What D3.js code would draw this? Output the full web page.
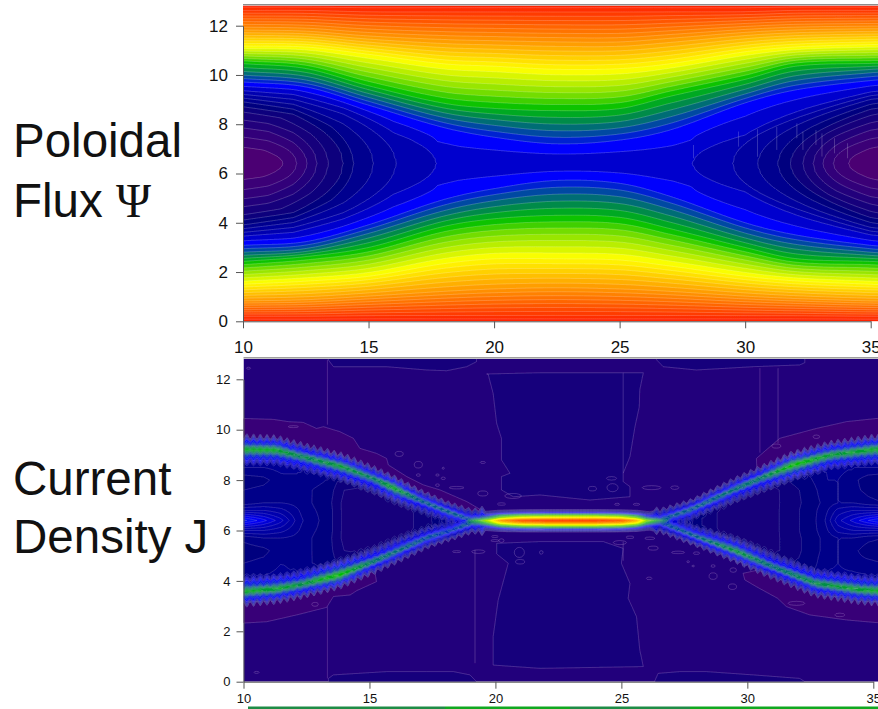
<!DOCTYPE html>
<html><head><meta charset="utf-8">
<script src="https://d3js.org/d3.v7.min.js"></script>
<style>html,body{margin:0;padding:0;background:#fff;overflow:hidden}svg{display:block}text{font-family:"Liberation Sans",Arial,sans-serif;fill:#111}</style>
</head><body><svg id="c" width="878" height="709"></svg>
<script>
// ---------- shared data ----------
const xTicks=[10,15,20,25,30,35];
const yTicks=[0,2,4,6,8,10,12];
const paletteV=[0,.05,.1,.13,.2,.24,.32,.40,.47,.58,.75,.96,1];
const paletteC=["#4b0073","#30007a","#12007c","#00007f","#0000b8","#0000ff","#006a78","#00c000","#80e000","#ffff00","#ff9a00","#ff3000","#ff2000"];
const xDomainEnd=36;
const midY=6.41, topY=12.85;

// ---------- Poloidal flux: isolines ----------
const psiInnerLevels=[.02,.04,.06,.08,.10,.12,.14,.16,.18,.20];
// [x, half height] knots of each closed isoline, left island
const psiInnerLeft=[
 [[10,.66],[10.8,.55],[11.3,.33],[11.6,0]],
 [[10,1.07],[11,.92],[11.8,.55],[12.15,0]],
 [[10,1.44],[11,1.3],[12,.85],[12.55,0]],
 [[10,1.76],[11,1.62],[12,1.25],[12.95,0]],
 [[10,2.09],[11.5,1.85],[12.7,1.2],[13.4,0]],
 [[10,2.3],[12,2.0],[13.2,1.3],[14,0]],
 [[10,2.5],[12,2.2],[13.5,1.5],[14.4,0]],
 [[10,2.65],[12,2.4],[14,1.6],[15.2,0]],
 [[10,2.8],[12,2.6],[14,2.0],[16.1,0]],
 [[10,2.95],[12,2.8],[14,2.25],[16,1.25],[17.7,0]]];
// same, right island
const psiInnerRight=[
 [[34.1,0],[34.5,.4],[35,.62],[36,.8]],
 [[33.5,0],[34,.6],[35,1.0],[36,1.15]],
 [[33.1,0],[33.8,.85],[35,1.35],[36,1.5]],
 [[32.7,0],[33.6,1.1],[35,1.65],[36,1.85]],
 [[32.3,0],[33.3,1.25],[35,1.95],[36,2.15]],
 [[31.8,0],[33,1.35],[35,2.2],[36,2.35]],
 [[31.3,0],[32.6,1.45],[35,2.4],[36,2.55]],
 [[30.5,0],[32.5,1.75],[35,2.6],[36,2.7]],
 [[29.5,0],[32.5,2.0],[35,2.75],[36,2.85]],
 [[27.9,0],[30,1.15],[32.5,2.25],[35,2.9],[36,3.0]]];
const psiMidX=[10,11.6,12.15,12.55,12.95,13.4,14,14.4,15.2,16.1,17.7,18.6,27.1,27.9,29.5,30.5,31.3,31.8,32.3,32.7,33.1,33.5,34.1,35.3,36];
const psiMidV=[0,.02,.04,.06,.08,.10,.12,.14,.16,.18,.20,.205,.205,.20,.18,.16,.14,.12,.10,.08,.06,.04,.02,0,0];
const psiColX=[10,12.5,15,18,20,22.5,25,27,30,32,35,36];
const psiOuterLevels=[.24,.32,.40,.58,.75,.96];
const psiUpper=[
 [9.65,9.45,8.7,7.77,7.36,7.08,7.24,7.64,8.78,9.3,9.7,9.75],
 [10.05,9.85,9.15,8.35,8.05,7.84,7.95,8.4,9.3,9.85,10.15,10.2],
 [10.5,10.3,9.6,8.9,8.7,8.62,8.7,9.2,9.87,10.4,10.5,10.5],
 [11.14,11.1,10.8,10.4,10.3,10.17,10.2,10.4,10.9,11.1,11.2,11.2],
 [11.8,11.75,11.55,11.4,11.35,11.3,11.3,11.45,11.7,11.8,11.85,11.85],
 [12.65,12.65,12.6,12.6,12.6,12.6,12.6,12.6,12.6,12.65,12.65,12.65]];
const psiLower=[
 [3.15,3.3,4.0,5.05,5.5,5.85,5.73,5.2,4.1,3.6,3.15,3.1],
 [2.75,2.9,3.5,4.4,4.8,5.05,4.95,4.45,3.5,3.05,2.75,2.7],
 [2.4,2.6,2.95,3.8,4.1,4.23,4.15,3.7,2.95,2.5,2.4,2.35],
 [1.54,1.67,1.87,2.4,2.6,2.6,2.55,2.3,1.87,1.68,1.54,1.5],
 [.85,.9,1.05,1.25,1.35,1.4,1.35,1.25,1.05,.95,.85,.85],
 [.18,.18,.2,.2,.2,.2,.2,.2,.2,.2,.18,.18]];
// thin straight isolines on the right island [x, y from, y to]
const psiSeams=[[27.94,7.16,6.62],[29.74,7.7,7.09],[30.49,7.8,6.68],[31.26,7.9,6.96],[32.06,8.04,7.43],[32.3,7.7,6.96],[32.82,7.77,7.16],[33.06,7.63,6.69],[33.56,7.43,6.82],[34.08,7.23,6.62]];

// ---------- Current density: ridges ----------
const upLX=[10,11.3,12.24,13.95,15.15,15.95,17,18.06,19,19.5];
const upLY=[9.22,9.2,8.96,8.53,8.07,7.7,7.21,6.77,6.44,6.38];
const upLP=[.39,.39,.36,.38,.35,.4,.33,.33,.31,.38];
const loLX=[10,11.3,12.24,13.8,15.15,16.2,17.27,18.3,19,19.5];
const loLY=[3.57,3.67,3.84,4.23,4.76,5.22,5.7,6.02,6.3,6.38];
const loLP=[.39,.39,.37,.42,.35,.34,.32,.3,.33,.38];
const upRX=[26.2,26.5,27.7,29.4,30.5,31.8,33.3,35,36];
const upRY=[6.38,6.42,6.81,7.6,8.07,8.6,9,9.22,9.25];
const upRP=[.38,.31,.33,.34,.35,.42,.38,.39,.39];
const loRX=[26.2,26.5,28,29.6,31,32.7,34.5,35.2,36];
const loRY=[6.38,6.35,5.75,5.16,4.56,3.9,3.64,3.6,3.58];
const loRP=[.38,.31,.33,.38,.34,.37,.39,.39,.39];
const widthX=[10,12,14,16,18,19.5,26.3,28,30,32,34,36];
const widthW=[.5,.48,.46,.42,.36,.4,.4,.36,.42,.46,.48,.5];
const ridgeProfileD=[0,.15,.35,.7,.95,1.15,1.25];
const ridgeProfileF=[1,.92,.72,.6,.35,.1,0];
const sheetX=[18.9,19.4,19.8,20.2,21,22,24,25,25.6,26,26.4,26.8];
const sheetP=[.34,.47,.6,.8,.95,1,1,.93,.76,.52,.42,.34];
const sheetY=6.38, sheetW=.42;
const sheetProfileD=[0,.1,.3,.57,.76,1.05,1.2];
const sheetProfileF=[1,.88,.62,.42,.24,.1,0];
// values between the two ridges
const lensX=[10,10.8,11.5,12.2,12.7,13.3,14,16.3,17.2,18,19,27,28,29,31,32.6,33.1,33.6,34.2,34.8,35.4,36];
const lensY=[3.6,4.2,4.7,5.2,5.7,6.0,6.4,6.8,7.1,7.6,8,8.5,9.2];
const lensV=[
 [.16,.16,.16,.16,.15,.14,.13,.115,.125,.13,.13,.13,.13,.12,.12,.14,.15,.16,.16,.16,.16,.16],
 [.15,.15,.155,.15,.145,.135,.125,.105,.115,.13,.13,.13,.13,.11,.115,.135,.15,.155,.155,.15,.15,.15],
 [.135,.14,.15,.145,.135,.13,.112,.1,.11,.13,.13,.13,.125,.1,.105,.13,.145,.15,.14,.14,.135,.135],
 [.125,.13,.145,.145,.135,.128,.105,.1,.11,.13,.13,.13,.125,.1,.1,.128,.14,.15,.14,.125,.12,.12],
 [.14,.15,.15,.145,.135,.128,.1,.1,.11,.13,.13,.13,.125,.1,.1,.128,.14,.15,.15,.14,.135,.135],
 [.18,.18,.17,.15,.137,.13,.1,.1,.11,.13,.13,.13,.125,.1,.1,.13,.145,.17,.18,.18,.18,.18],
 [.26,.23,.2,.155,.14,.13,.1,.1,.11,.14,.14,.14,.125,.1,.1,.13,.15,.19,.215,.24,.26,.26],
 [.18,.18,.17,.15,.137,.13,.1,.1,.11,.13,.13,.13,.125,.1,.1,.13,.145,.17,.18,.18,.18,.18],
 [.14,.15,.15,.145,.135,.128,.1,.1,.11,.13,.13,.13,.125,.1,.1,.128,.14,.15,.15,.14,.135,.135],
 [.135,.14,.15,.145,.135,.13,.105,.1,.11,.13,.13,.13,.125,.1,.1,.13,.145,.15,.14,.13,.125,.125],
 [.125,.13,.145,.15,.14,.135,.112,.1,.11,.13,.13,.13,.125,.105,.112,.135,.15,.15,.14,.125,.12,.12],
 [.15,.15,.155,.15,.145,.135,.125,.105,.115,.13,.13,.13,.13,.11,.125,.14,.15,.155,.15,.15,.15,.15],
 [.16,.16,.16,.16,.15,.14,.13,.115,.125,.13,.13,.13,.13,.12,.12,.14,.15,.16,.16,.16,.16,.16]];
// low-level regions (level, outline in chart units)
const jBaseLevel=.07;
const jRegions=[
 {level:.035,pts:[[9.9,10.45],[11.18,10.41],[11.78,10.32],[12.37,10.29],[12.9,10.05],[13.17,10.12],[13.83,9.92],[14.36,9.66],[14.62,9.26],[15.28,9.06],[15.68,8.86],[15.75,8.6],[16.48,8.14],[17.14,7.81],[17.8,7.61],[18.86,7.15],[19.39,6.84],[19,6.44],[17,7.21],[15.15,8.07],[12.24,8.96],[9.9,9.22]]},
 {level:.035,pts:[[9.9,2.32],[10.92,2.38],[12.11,2.65],[13.3,2.95],[13.57,3.38],[14.23,3.44],[14.49,3.61],[15.28,3.97],[15.15,4.76],[13.8,4.23],[12.24,3.84],[9.9,3.57]]},
 {level:.035,pts:[[30.36,8.86],[31.29,9.66],[32.74,10.05],[33.94,10.32],[35.18,10.45],[36.2,10.45],[36.2,9.2],[33.3,9],[31.8,8.6],[30.4,8.0]]},
 {level:.035,pts:[[29.83,4.3],[29.9,4.04],[30.36,3.77],[31.2,3.31],[31.55,2.98],[32.48,2.65],[33,2.58],[33.94,2.45],[35.18,2.34],[36.2,2.3],[36.2,3.6],[34.5,3.64],[32.7,3.9],[31,4.56]]},
 {level:.09,pts:[[19.65,12.21],[21.77,12.26],[25.87,12.26],[25.73,11.58],[25.71,10.91],[25.54,10.12],[25.34,8.93],[25.07,8.27],[25.07,7.94],[25.34,7.74],[25.34,7.34],[23.75,7.21],[21.77,7.41],[20.71,7.34],[20.24,7.61],[20.24,8.14],[20.58,8.27],[20.24,8.8],[20.24,9.66],[20.05,10.25],[19.91,11.44],[19.71,12.21]]},
 {level:.09,pts:[[19.91,.66],[19.91,1.79],[20.11,3.24],[20.51,4.7],[20.05,5.07],[20.05,5.49],[21.77,5.56],[24.28,5.56],[25.07,5.29],[25,4.7],[25.34,3.9],[25.27,3.31],[25.6,2.58],[25.73,1.26],[25.87,.6],[21.77,.53]]},
 {level:.09,pts:[[13.37,12.9],[13.37,12.77],[13.57,12.5],[15.68,12.5],[17.27,12.37],[18.06,12.34],[18.86,12.5],[19.25,12.7],[19.25,12.9]]},
 {level:.09,pts:[[26.4,12.9],[26.4,12.77],[26.66,12.5],[27.98,12.37],[30.23,12.5],[32.08,12.57],[32.28,12.66],[32.28,12.9]]},
 {level:.09,pts:[[13.37,-.1],[13.37,.13],[13.57,.27],[15.68,.4],[17.27,.4],[18.33,.4],[18.99,.27],[19.25,0],[19.25,-.1]]},
 {level:.09,pts:[[26.33,-.1],[26.33,.04],[26.46,.33],[27.32,.4],[28.38,.4],[30.23,.27],[32.08,.13],[32.28,0],[32.28,-.1]]}];
// thin straight isolines [x, y from, y to]
const jSeams=[[13.33,12.77,10.2],[13.33,2.98,.13],[19.19,5.23,.73],[30.5,12.44,9.09],[31.22,12.44,9.46],[25.07,12.26,8.27],[25.07,5.56,4.8],[33.27,8.6,6.8],[34.33,8.6,8.3]];
// small closed isolines [x, y, half width, half height]
const jSpots=[[16.18,9.04,.16,.1],[16.94,8.61,.16,.13],[19.5,8.7,.1,.04],[16.94,8.2,.08,.05],[17.93,8.47,.04,.04],[17.7,8.2,.07,.04],[17.93,8.07,.08,.05],[18.46,7.7,.29,.05],[17.7,7.8,.08,.05],[13.63,6.4,.24,.1],[16.2,6.42,.18,.04],[12.84,8.18,.2,.04],[13.56,7.98,.2,.07],[13.76,7.74,.2,.07],[11.98,10.12,.2,.04],[10.2,12.44,.08,.04],[10.52,.37,.1,.04],[12.84,3.07,.13,.08],[18.46,5.16,.16,.04],[19.32,5.16,.26,.07],[19.98,5.6,.16,.04],[20.24,5.6,.1,.07],[20.95,5.13,.2,.2],[20.98,4.76,.18,.09],[19.5,7.47,.2,.1],[20.7,7.37,.33,.1],[20.24,7.05,.16,.05],[19.98,5.76,.13,.04],
 [23.85,7.66,.16,.09],[24.61,8.07,.2,.07],[24.65,7.7,.22,.16],[26.2,7.7,.37,.08],[27.12,7.7,.16,.07],[24.83,7.04,.1,.04],[25.6,7.04,.13,.04],[25.34,5.73,.16,.05],[26.13,5.69,.2,.05],[21.82,5.13,.07,.07],[24.94,5.52,.26,.08],[26.26,5.3,.2,.08],[27.25,5.13,.26,.05],[27.98,5.1,.13,.05],[27.65,4.76,.05,.04],[27.85,4.59,.05,.03],[28.64,4.59,.08,.05],[29.44,4.43,.13,.09],[28.64,4.19,.16,.13],[29.41,3.77,.16,.11],[26.1,4.1,.11,.05],[32.74,9.72,.13,.07],[31.15,9.35,.18,.08],[32.02,5.07,.18,.09],[32.74,4.59,.18,.08],[32.02,4.76,.18,.08],[33.67,2.65,.2,.07],[31.95,3.11,.33,.08]];

// ---------- third panel edge at the bottom ----------
const stripEdges=[248,445,570,690,878];
const stripColors=["#1e8c46","#10a820","#1e8c46","#10a820"];

// ---------- labels ----------
const labels=[
 {t:"Poloidal",x:13,y:157},
 {t:"Flux ",x:13,y:217,psi:"\u03A8"},
 {t:"Current",x:13,y:495},
 {t:"Density J",x:13,y:553}];

// ---------- helpers ----------
const svg=d3.select("#c");
const color=d3.scaleLinear().domain(paletteV).range(paletteC).clamp(true);
function pw(xs,ys,x){ // piecewise linear lookup in a read-off table
  if(x<=xs[0])return ys[0]; if(x>=xs[xs.length-1])return ys[ys.length-1];
  const i=d3.bisectRight(xs,x)-1,t=(x-xs[i])/(xs[i+1]-xs[i]); return ys[i]+(ys[i+1]-ys[i])*t;
}
function smooth(xs,ys,x){ // Hermite through the read-off knots
  if(x<=xs[0])return ys[0]; if(x>=xs[xs.length-1])return ys[ys.length-1];
  const i=d3.bisectRight(xs,x)-1,h=xs[i+1]-xs[i],t=(x-xs[i])/h;
  const sl=k=>k<=0?(ys[1]-ys[0])/(xs[1]-xs[0]):k>=xs.length-1?(ys[k]-ys[k-1])/(xs[k]-xs[k-1]):(ys[k+1]-ys[k-1])/(xs[k+1]-xs[k-1]);
  const m0=sl(i)*h,m1=sl(i+1)*h,t2=t*t,t3=t2*t;
  return (2*t3-3*t2+1)*ys[i]+(t3-2*t2+t)*m0+(-2*t3+3*t2)*ys[i+1]+(t3-t2)*m1;
}
function innerHalf(knots,x){ // half height of a closed isoline, rounded at its tip
  const xs=knots.map(k=>k[0]); if(x<xs[0]||x>xs[xs.length-1])return 0;
  return Math.sqrt(Math.max(0,pw(xs,knots.map(k=>k[1]*k[1]),x)));
}
function contourLayer(g,values,nx,ny,x0,dx,y0,dy,sx,sy,thresholds,bandColor,strokeFor,w){
  const path=d3.geoPath(d3.geoTransform({point(a,b){this.stream.point(sx(x0+(a-.5)*dx),sy(y0+(b-.5)*dy));}}));
  const cs=d3.contours().size([nx,ny]).smooth(true).thresholds(thresholds)(values);
  g.selectAll(null).data(cs).join("path").attr("d",path)
    .attr("fill",(d,i)=>bandColor(i,d.value)).attr("stroke",d=>strokeFor(d.value)).attr("stroke-width",w).attr("stroke-linejoin","round");
}
function frame(sx,sy,fontSize,labelPad){
  const ax=d3.axisBottom(sx).tickValues(xTicks).tickSize(7).tickSizeOuter(0).tickPadding(labelPad.x);
  const ay=d3.axisLeft(sy).tickValues(yTicks).tickSize(7).tickSizeOuter(0).tickPadding(labelPad.y);
  const gx=svg.append("g").attr("transform",`translate(0,${sy(0)})`).call(ax);
  const gy=svg.append("g").attr("transform",`translate(${sx(10)},0)`).call(ay);
  [gx,gy].forEach(g=>{g.selectAll("text").attr("font-size",fontSize).style("fill","#111");
    g.selectAll("path,line").attr("stroke","#555").attr("stroke-width",1);});
  svg.append("line").attr("x1",sx(10)).attr("x2",sx(xDomainEnd)).attr("y1",sy(topY)).attr("y2",sy(topY)).attr("stroke","#666");
}

// ---------- Psi ----------
(function(){
  const sx=d3.scaleLinear([10,35],[243,870.7]), sy=d3.scaleLinear([0,12],[321.3,25.7]);
  const nx=300,ny=320,dx=(xDomainEnd-10)/(nx-1),dy=topY/(ny-1);
  const vals=new Float64Array(nx*ny);
  for(let i=0;i<nx;i++){
    const x=10+i*dx;
    const mid=pw(psiMidX,psiMidV,x);
    const inner=psiInnerLevels.map((L,k)=>Math.max(innerHalf(psiInnerLeft[k],x),innerHalf(psiInnerRight[k],x)));
    const kU=[[midY,mid]],kL=[[midY,mid]];
    psiInnerLevels.forEach((L,k)=>{ if(inner[k]>0&&L>mid){kU.push([midY+inner[k],L]);kL.push([midY-inner[k],L]);} });
    psiOuterLevels.forEach((L,k)=>{kU.push([smooth(psiColX,psiUpper[k],x),L]);kL.push([smooth(psiColX,psiLower[k],x),L]);});
    kU.push([topY,1]);kL.push([0,1]);
    kL.reverse();
    const ux=kU.map(d=>d[0]),uv=kU.map(d=>d[1]),lx=kL.map(d=>d[0]),lv=kL.map(d=>d[1]);
    for(let j=0;j<ny;j++){const y=j*dy; vals[i+j*nx]= y>=midY?pw(ux,uv,y):pw(lx,lv,y);}
  }
  const th=[...psiInnerLevels]; for(let t=.225;t<1;t+=.028)th.push(+t.toFixed(3));
  svg.append("defs").html('<clipPath id="clipA"><rect x="243" y="5.7" width="640" height="315.6"/></clipPath><clipPath id="clipB"><rect x="243.5" y="359" width="640" height="322.7"/></clipPath><filter id="soft" x="-2%" y="-2%" width="104%" height="104%"><feGaussianBlur stdDeviation="0.35"/></filter>');
  const g=svg.append("g").attr("clip-path","url(#clipA)").append("g").attr("filter","url(#soft)");
  g.append("rect").attr("x",sx(10)).attr("y",sy(topY)).attr("width",sx(xDomainEnd)-sx(10)).attr("height",sy(0)-sy(topY)).attr("fill",color(0));
  contourLayer(g,vals,nx,ny,10,dx,0,dy,sx,sy,th,(i,v)=>color(i+1<th.length?(th[i]+th[i+1])/2:1),()=>"rgba(255,255,255,.33)",.6);
  g.selectAll(null).data(psiSeams).join("line").attr("x1",d=>sx(d[0])).attr("x2",d=>sx(d[0])).attr("y1",d=>sy(d[1])).attr("y2",d=>sy(d[2])).attr("stroke","rgba(255,255,255,.35)").attr("stroke-width",.6);
  frame(sx,sy,17,{x:13,y:8});
})();

// ---------- J ----------
(function(){
  const sx=d3.scaleLinear([10,35],[243.5,873.3]), sy=d3.scaleLinear([0,12],[681.7,379.3]);
  const nx=196,ny=129,dx=26/195,dy=.1;
  const lensCol=i=>lensV.map(r=>r[i]);
  const vals=new Float64Array(nx*ny);
  const ridges=[[upLX,upLY,upLP,1],[loLX,loLY,loLP,-1],[upRX,upRY,upRP,1],[loRX,loRY,loRP,-1]];
  for(let i=0;i<nx;i++){
    const x=10+i*dx, comb=i%2?1.2:.82, w=pw(widthX,widthW,x);
    const cols=ridges.filter(r=>x>=r[0][0]&&x<=r[0][r[0].length-1]).map(r=>({y:pw(r[0],r[1],x),p:pw(r[0],r[2],x),s:r[3]}));
    const sp=(x>=sheetX[0]&&x<=sheetX[sheetX.length-1])?pw(sheetX,sheetP,x):0;
    const ys=cols.map(c=>c.y);
    const lo=d3.min(ys),hi=d3.max(ys);
    const k=d3.bisectRight(lensX,x)-1,k1=Math.min(k+1,lensX.length-1),t=k1>k?(x-lensX[k])/(lensX[k1]-lensX[k]):0;
    const cA=lensCol(k),cB=lensCol(k1);
    for(let j=0;j<ny;j++){
      const y=j*dy; let v=0;
      if(cols.length&&y>=lo&&y<=hi){v=pw(lensY,cA,y)*(1-t)+pw(lensY,cB,y)*t;}
      cols.forEach(c=>{
        const inward=(y-c.y)*c.s<0;
        const wid=w*comb*(inward?1.2:1);
        const f=pw(ridgeProfileD,ridgeProfileF,Math.abs(y-c.y)/wid);
        v=Math.max(v,c.p*f);
      });
      if(sp>0)v=Math.max(v,sp*pw(sheetProfileD,sheetProfileF,Math.abs(y-sheetY)/sheetW));
      vals[i+j*nx]=v;
    }
  }
  const th=[.09,.105,.12,.135,.15,.165,.18,.195]; for(let t=.21;t<.46;t+=.015)th.push(+t.toFixed(3)); for(let t=.49;t<1;t+=.04)th.push(+t.toFixed(2));
  const g=svg.append("g").attr("clip-path","url(#clipB)").append("g").attr("filter","url(#soft)");
  const lineC="rgba(215,190,235,.38)";
  g.append("rect").attr("x",sx(10)).attr("y",sy(topY)).attr("width",sx(xDomainEnd)-sx(10)).attr("height",sy(0)-sy(topY)).attr("fill",color(jBaseLevel));
  const outline=d3.line().x(d=>sx(d[0])).y(d=>sy(d[1])).curve(d3.curveLinearClosed);
  g.selectAll(null).data(jRegions).join("path").attr("d",d=>outline(d.pts)).attr("fill",d=>color(d.level)).attr("stroke",lineC).attr("stroke-width",.6);
  g.selectAll(null).data(jSeams).join("line").attr("x1",d=>sx(d[0])).attr("x2",d=>sx(d[0])).attr("y1",d=>sy(d[1])).attr("y2",d=>sy(d[2])).attr("stroke",lineC).attr("stroke-width",.6);
  g.selectAll(null).data(jSpots).join("ellipse").attr("cx",d=>sx(d[0])).attr("cy",d=>sy(d[1])).attr("rx",d=>sx(d[2])-sx(0)).attr("ry",d=>sy(0)-sy(d[3])).attr("fill","none").attr("stroke",lineC).attr("stroke-width",.6);
  contourLayer(g,vals,nx,ny,10,dx,0,dy,sx,sy,th,(i,v)=>color(i+1<th.length?(th[i]+th[i+1])/2:1),v=>v>.46?"rgba(255,255,255,.05)":lineC,.5);
  frame(sx,sy,13,{x:5,y:6});
})();

// ---------- strip and titles ----------
svg.selectAll(null).data(stripColors).join("rect").attr("x",(d,i)=>stripEdges[i]).attr("width",(d,i)=>stripEdges[i+1]-stripEdges[i]).attr("y",706.5).attr("height",2.5).attr("fill",d=>d);
const tt=svg.selectAll(null).data(labels).join("text").attr("x",d=>d.x).attr("y",d=>d.y).attr("font-size",47.5);
tt.append("tspan").text(d=>d.t);
tt.filter(d=>d.psi).append("tspan").style("font-family","'Liberation Serif',serif").text(d=>d.psi);
</script></body></html>
